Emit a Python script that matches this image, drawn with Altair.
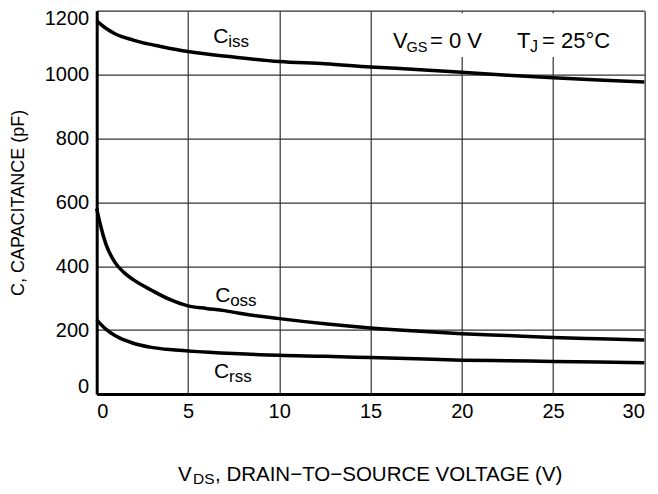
import altair as alt
import pandas as pd

# Drain-source voltage (V) sample points and capacitances (pF)
v_iss = [0, 0.5, 1, 2, 2.5, 3.5, 5, 7.5, 10, 12.5, 15, 17.5, 20, 22.5, 25, 27.5, 30]
c_iss = [1168, 1145, 1128, 1108, 1100, 1088, 1072, 1055, 1041, 1034, 1024, 1016, 1007, 998, 990, 983, 977]

v_oss = [0, 0.2, 0.5, 1, 1.5, 2, 3, 4, 5, 6, 7, 8, 10, 12.5, 15, 17.5, 20, 22.5, 25, 27.5, 30]
c_oss = [580, 530, 470, 412, 380, 358, 325, 296, 276, 268, 261, 251, 236, 220, 207, 197, 189, 183, 177, 173, 169]

v_rss = [0, 0.5, 1, 2, 3, 4, 5, 7.5, 10, 12.5, 15, 17.5, 20, 22.5, 25, 27.5, 30]
c_rss = [232, 203, 183, 159, 146, 139, 135, 127, 121, 118, 114, 110, 106, 104, 102, 100, 98]

x_ticks = [0, 5, 10, 15, 20, 25, 30]
y_ticks = [0, 200, 400, 600, 800, 1000, 1200]

FONT = "Liberation Sans"

df = pd.concat([
    pd.DataFrame({"v": v_iss, "c": c_iss, "s": "Ciss"}),
    pd.DataFrame({"v": v_oss, "c": c_oss, "s": "Coss"}),
    pd.DataFrame({"v": v_rss, "c": c_rss, "s": "Crss"}),
])

xs = alt.Scale(domain=[0, 30], nice=False)
ys = alt.Scale(domain=[0, 1200], nice=False)

lines = alt.Chart(df).mark_line(color="black", strokeWidth=3.5, interpolate="monotone").encode(
    x=alt.X("v:Q", scale=xs, axis=alt.Axis(
        values=x_ticks, grid=True, ticks=False, title=None, format="d",
        labelFontSize=20, labelFont=FONT, labelColor="black", labelPadding=7,
        domainColor="black", domainWidth=3, gridColor="#333", gridWidth=1.2)),
    y=alt.Y("c:Q", scale=ys, axis=alt.Axis(
        values=y_ticks, grid=True, ticks=False, format="d",
        title="C, CAPACITANCE (pF)", titleFontSize=18, titleFont=FONT,
        titleFontWeight="normal", titleColor="black", titleAngle=270,
        titleX=-78.5, titleY=191.7, titleAlign="center", titleBaseline="middle",
        labelFontSize=20, labelFont=FONT, labelColor="black", labelPadding=8,
        labelFlush=True, labelFlushOffset=2,
        domainColor="black", domainWidth=3, gridColor="#333", gridWidth=1.2)),
    detail="s:N",
)

# white background behind the condition text
bg = alt.Chart(pd.DataFrame({"a": [0]})).mark_rect(color="white").encode(
    x=alt.datum(16.0), x2=alt.datum(28.4),
    y=alt.datum(1055), y2=alt.datum(1192),
)

def label(xv, yv, main, sub, dx_sub, rest=None, dx_rest=0, size=21, subsize=16):
    base = alt.Chart(pd.DataFrame({"a": [0]}))
    layers = [
        base.mark_text(text=main, align="left", baseline="alphabetic", fontSize=size,
                       font=FONT, color="black").encode(x=alt.datum(xv), y=alt.datum(yv)),
        base.mark_text(text=sub, align="left", baseline="alphabetic", fontSize=subsize,
                       font=FONT, color="black", dx=dx_sub, dy=4).encode(x=alt.datum(xv), y=alt.datum(yv)),
    ]
    if rest:
        layers.append(base.mark_text(text=rest, align="left", baseline="alphabetic", fontSize=size,
                                     font=FONT, color="black", dx=dx_rest).encode(x=alt.datum(xv), y=alt.datum(yv)))
    return layers

anns = []
anns += label(6.38, 1098, "C", "iss", 15, subsize=17)
anns += label(6.49, 289, "C", "oss", 15, subsize=17)
anns += label(6.43, 50, "C", "rss", 15, subsize=17)
anns += label(16.23, 1082, "V", "GS", 13.5, "= 0 V", 37, size=22, subsize=14.5)
anns += label(23.03, 1082, "T", "J", 13, "= 25°C", 25, size=22)

# x-axis title with subscript
tb = alt.Chart(pd.DataFrame({"a": [0]}))
xt = [
    tb.mark_text(text="V", align="left", baseline="alphabetic", fontSize=20.5, font=FONT,
                 color="black").encode(x=alt.value(81.3), y=alt.value(470.5)),
    tb.mark_text(text="DS", align="left", baseline="alphabetic", fontSize=15.5, font=FONT,
                 color="black", dx=15, dy=3).encode(x=alt.value(81.3), y=alt.value(470.5)),
    tb.mark_text(text=", DRAIN\u2212TO\u2212SOURCE VOLTAGE (V)", align="left", baseline="alphabetic",
                 fontSize=20.5, font=FONT, color="black", dx=37).encode(x=alt.value(81.3), y=alt.value(470.5)),
]

chart = alt.layer(lines, bg, *anns, *xt).properties(
    width=547.6, height=383.3,
    autosize=alt.AutoSizeParams(type="none"),
    padding={"left": 88.7, "top": 2.7, "right": 5.7, "bottom": 92},
).configure_view(stroke="black", strokeWidth=1.5).configure(background="white")

chart.save("out.html", embed_options={"renderer": "svg", "actions": False})
